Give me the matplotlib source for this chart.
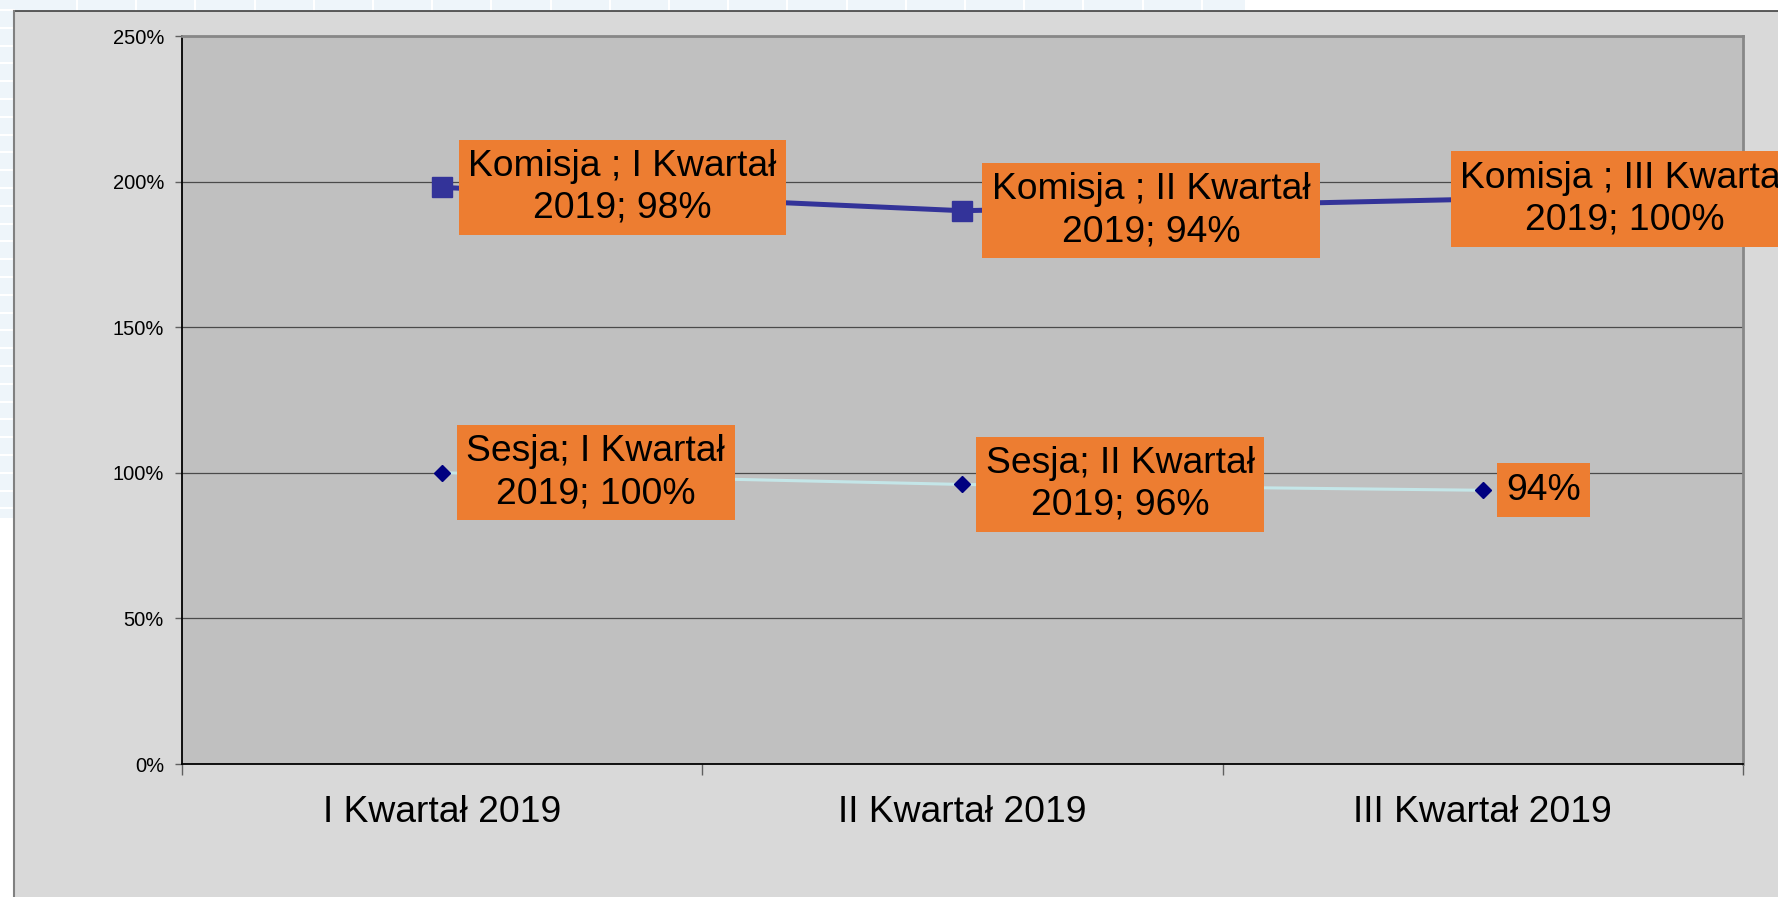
import matplotlib
matplotlib.use('Agg')
import matplotlib.pyplot as plt
from matplotlib import patches
from matplotlib.lines import Line2D
import numpy as np

plt.rcParams['font.family'] = ['Liberation Sans', 'DejaVu Sans']

categories = ['I Kwartał 2019', 'II Kwartał 2019', 'III Kwartał 2019']
sesja = [1.00, 0.96, 0.94]
komisja = [0.98, 0.94, 1.00]
sesja_labels = ['Sesja; I Kwartał\n2019; 100%', 'Sesja; II Kwartał\n2019; 96%', '94%']
komisja_labels = ['Komisja ; I Kwartał\n2019; 98%', 'Komisja ; II Kwartał\n2019; 94%',
                  'Komisja ; III Kwartał\n2019; 100%']
y_ticks = [0, 0.5, 1.0, 1.5, 2.0, 2.5]
y_tick_labels = ['0%', '50%', '100%', '150%', '200%', '250%']

W, H = 1778, 897
fig = plt.figure(figsize=(W / 100, H / 100), dpi=100)
fig.patch.set_facecolor('white')

# slide background tiles (top and left strips)
tile = '#eef5fa'
fig.add_artist(patches.Rectangle((0, 1 - 11 / H), 1245 / W, 11 / H, transform=fig.transFigure,
                                 facecolor=tile, edgecolor='none', zorder=0))
fig.add_artist(patches.Rectangle((0, 1 - 518 / H), 14 / W, 518 / H, transform=fig.transFigure,
                                 facecolor=tile, edgecolor='none', zorder=0))
for xv in np.arange(77, 1245, 59.2):
    fig.add_artist(Line2D([xv / W, xv / W], [1 - 11 / H, 1], transform=fig.transFigure,
                          color='white', lw=1.5, zorder=0.5))
for yv in np.arange(10, 518, 17.8):
    fig.add_artist(Line2D([0, 14 / W], [1 - yv / H, 1 - yv / H], transform=fig.transFigure,
                          color='white', lw=1.5, zorder=0.5))

# chart area box
fig.add_artist(patches.Rectangle((14 / W, 0), 1 - 14 / W, 1 - 11 / H, transform=fig.transFigure,
                                 facecolor='#d9d9d9', edgecolor='none', zorder=1))
fig.add_artist(Line2D([14 / W, 1], [1 - 11 / H, 1 - 11 / H], transform=fig.transFigure,
                      color='#404040', lw=1.2, zorder=2))
fig.add_artist(Line2D([14 / W, 14 / W], [0, 1 - 11 / H], transform=fig.transFigure,
                      color='#808080', lw=1.5, zorder=2))

ax = fig.add_axes([182 / W, 1 - 764 / H, (1743 - 182) / W, (764 - 36) / H])
ax.set_facecolor('#c0c0c0')
ax.set_zorder(3)

x = np.arange(len(categories))
top = np.array(sesja) + np.array(komisja)

ax.plot(x, sesja, color='#c4e6e8', lw=2.2, marker='D', ms=8.5,
        mfc='#000080', mec='#000080', zorder=3)
ax.plot(x, top, color='#333399', lw=3.6, marker='s', ms=14,
        mfc='#333399', mec='#333399', zorder=3)

ax.set_xlim(-0.5, 2.5)
ax.set_ylim(0, 2.5)
ax.set_yticks(y_ticks)
ax.set_yticklabels(y_tick_labels)
ax.yaxis.grid(True, color='#4a4a4a', lw=0.9)
ax.set_axisbelow(True)

ax.set_xticks([-0.5, 0.5, 1.5, 2.5])
ax.set_xticklabels([])
ax.set_xticks(x, minor=True)
ax.set_xticklabels(categories, minor=True)
ax.tick_params(axis='x', which='major', length=8, color='#606060', width=1)
ax.tick_params(axis='x', which='minor', length=0, labelsize=26.8, pad=22)
ax.tick_params(axis='y', length=5, color='#606060', width=1, labelsize=14.5, pad=8)

for s in ['left', 'bottom']:
    ax.spines[s].set_color('black')
    ax.spines[s].set_linewidth(1.3)
for s in ['top', 'right']:
    ax.spines[s].set_color('#888888')
    ax.spines[s].set_linewidth(2)

box = dict(boxstyle='square,pad=0.25', facecolor='#ed7d31', edgecolor='none')
fs = 26.8
pad_px = 0.25 * fs * 100 / 72

sesja_dx = [15, 14, 14]
komisja_dx = [17, 20, -32]
for i in range(len(categories)):
    ax.annotate(sesja_labels[i], (x[i], sesja[i]), xytext=(sesja_dx[i] + pad_px, 0),
                textcoords='offset pixels', ha='left', va='center', multialignment='center',
                fontsize=fs, linespacing=1.25, bbox=box, zorder=5, annotation_clip=False)
    ax.annotate(komisja_labels[i], (x[i], top[i]), xytext=(komisja_dx[i] + pad_px, 0),
                textcoords='offset pixels', ha='left', va='center', multialignment='center',
                fontsize=fs, linespacing=1.25, bbox=box, zorder=5, annotation_clip=False)

fig.savefig('out.png', dpi=100, facecolor=fig.get_facecolor())
